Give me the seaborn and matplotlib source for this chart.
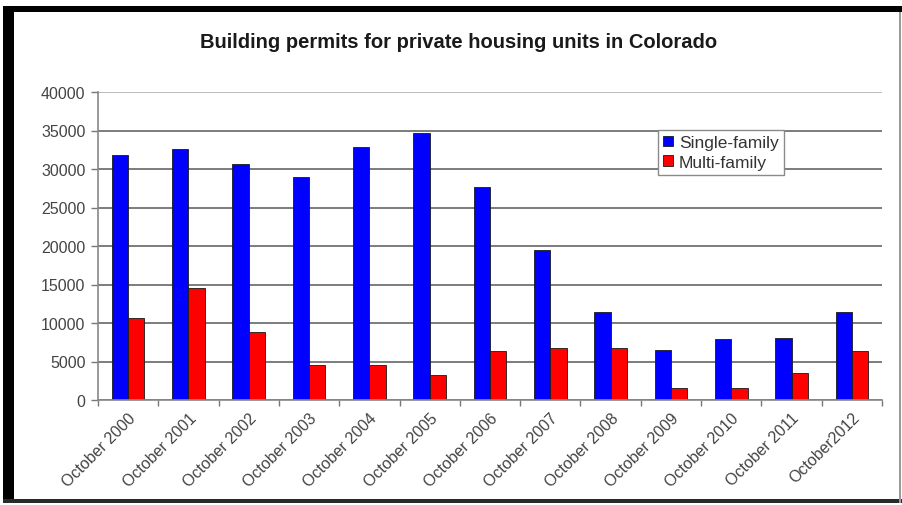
import matplotlib
matplotlib.use("Agg")
import matplotlib.pyplot as plt
from matplotlib.patches import Rectangle
import seaborn as sns
import pandas as pd

periods = ["October 2000", "October 2001", "October 2002", "October 2003",
           "October 2004", "October 2005", "October 2006", "October 2007",
           "October 2008", "October 2009", "October 2010", "October 2011",
           "October2012"]
single_family = [31800, 32600, 30600, 29000, 32900, 34700, 27700, 19500,
                 11400, 6500, 7900, 8100, 11400]
multi_family = [10700, 14500, 8800, 4600, 4600, 3200, 6300, 6700,
                6700, 1600, 1600, 3500, 6300]
series_names = ["Single-family", "Multi-family"]
y_ticks = [0, 5000, 10000, 15000, 20000, 25000, 30000, 35000, 40000]
title = "Building permits for private housing units in Colorado"

df = pd.DataFrame({
    "period": periods * 2,
    "type": [series_names[0]] * len(periods) + [series_names[1]] * len(periods),
    "value": single_family + multi_family,
})

sns.set_theme(style="white")
plt.rcParams["font.family"] = ["Liberation Sans", "DejaVu Sans"]

W, H = 902, 506
fig = plt.figure(figsize=(W / 100, H / 100), dpi=100)
fig.patch.set_facecolor("white")

def px(x0, y0, x1, y1):
    return [x0 / W, 1 - y1 / H, (x1 - x0) / W, (y1 - y0) / H]

ax = fig.add_axes(px(98, 93, 882, 401))

sns.barplot(data=df, x="period", y="value", hue="type", order=periods,
            hue_order=series_names,
            palette={"Single-family": "#0000ff", "Multi-family": "#ff0000"},
            saturation=1, width=0.54, dodge=True, errorbar=None,
            edgecolor="#1a1a1a", linewidth=0.6, ax=ax)

ax.set_ylim(0, 40000)
ax.set_xlim(-0.5, len(periods) - 0.5)
ax.set_yticks(y_ticks)
ax.set_yticklabels([str(v) for v in y_ticks], fontsize=11.5, color="#444444")
ax.set_xlabel("")
ax.set_ylabel("")
ax.set_xticks(range(len(periods)))
ax.set_xticklabels(periods, rotation=45, ha="right", rotation_mode="anchor",
                   fontsize=11.5, color="#444444")
ax.set_xticks([i - 0.5 for i in range(len(periods) + 1)], minor=True)
ax.tick_params(axis="x", which="major", length=0, pad=7)
ax.tick_params(axis="x", which="minor", length=4, color="#777777", width=1,
               direction="out", bottom=True)
ax.tick_params(axis="y", which="major", length=5, color="#777777", width=1,
               left=True, pad=4)

ax.yaxis.grid(True, color="#666666", linewidth=1.2)
ax.set_axisbelow(True)
gls = ax.yaxis.get_gridlines()
gls[-1].set_color("#b0b0b0")
for s in ["top", "right"]:
    ax.spines[s].set_visible(False)
for s in ["left", "bottom"]:
    ax.spines[s].set_color("#888888")
    ax.spines[s].set_linewidth(1.2)

leg = ax.legend(loc="upper left", bbox_to_anchor=(658 / W, 1 - 131 / H),
                bbox_transform=fig.transFigure, frameon=True, fancybox=False,
                edgecolor="#8a8a8a", framealpha=1, fontsize=12.5,
                handlelength=0.55, handleheight=0.55, handletextpad=0.35,
                borderpad=0.3, labelspacing=0.25, borderaxespad=0)
leg.get_frame().set_linewidth(1.0)
for t in leg.get_texts():
    t.set_color("#333333")

fig.text(459 / W, 1 - 43 / H, title, ha="center", va="center",
         fontsize=14.5, fontweight="bold", color="#1a1a1a")

# outer frame
for (x0, y0, x1, y1, c) in [(3, 7, 14, 504, "black"), (3, 7, 902, 13, "black"),
                             (3, 500, 902, 504, "#2a2a2a"),
                             (899, 13, 901, 504, "#9a9a9a")]:
    fig.add_artist(Rectangle((x0 / W, 1 - y1 / H), (x1 - x0) / W, (y1 - y0) / H,
                             transform=fig.transFigure, facecolor=c,
                             edgecolor="none", zorder=10))

fig.savefig("out.png", dpi=100, facecolor="white")
